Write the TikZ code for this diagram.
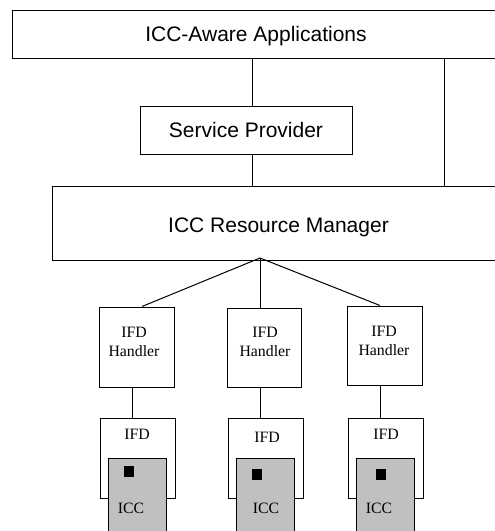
\documentclass[tikz,border=0pt]{standalone}
\usepackage{fontspec}
\setmainfont{Liberation Serif}
\newfontfamily\arialf{Liberation Sans}
\definecolor{iccgray}{HTML}{C0C0C0}
\begin{document}
\begin{tikzpicture}[x=1pt,y=-1pt,line width=1pt,
  bigbox/.style={draw,rectangle,inner sep=0pt,text height=15.1pt,text depth=0pt,font=\arialf\fontsize{21}{25}\selectfont},
  smallbox/.style={draw,rectangle,inner sep=0pt},
  serift/.style={inner sep=0pt,align=center,font=\fontsize{15.8}{19}\selectfont},
  cardbox/.style={draw,fill=iccgray,rectangle,inner sep=0pt},
  chip/.style={fill=black,rectangle,inner sep=0pt,minimum width=10pt,minimum height=11pt}]
\useasboundingbox (0,0) rectangle (495,531);
\clip (0,0) rectangle (495,531);
\fill[white] (0,0) rectangle (495,531);
% top levels
\node[bigbox,minimum width=488pt,minimum height=48pt] (top) at (256,34) {ICC-Aware Applications};
\node[bigbox,minimum width=212pt,minimum height=48pt] (sp) at (246,130) {Service Provider};
\node[bigbox,minimum width=453pt,minimum height=74pt] (rm) at (278.5,223) {\raisebox{-2pt}{ICC Resource Manager}};
\coordinate (apex) at (260,258);
% handlers
\node[smallbox,minimum width=75pt,minimum height=80pt] (h1) at (136.5,347) {};
\node[smallbox,minimum width=74pt,minimum height=79pt] (h2) at (264,347.5) {};
\node[smallbox,minimum width=75pt,minimum height=79pt] (h3) at (384.5,345.5) {};
\node[serift] (ht1) at (134,342) {IFD\\Handler};
\node[serift] (ht2) at (265,342) {IFD\\Handler};
\node[serift] (ht3) at (384,341) {IFD\\Handler};
% IFD boxes
\node[smallbox,minimum width=75pt,minimum height=80pt] (i1) at (137.5,458) {};
\node[smallbox,minimum width=75pt,minimum height=80pt] (i2) at (265.5,458) {};
\node[smallbox,minimum width=75pt,minimum height=80pt] (i3) at (385.5,458) {};
\node[serift] (it1) at (137,434) {IFD};
\node[serift] (it2) at (267,437) {IFD};
\node[serift] (it3) at (386,434) {IFD};
% ICC cards
\node[cardbox,minimum width=58pt,minimum height=102pt] (g1) at (137,509) {};
\node[cardbox,minimum width=58pt,minimum height=102pt] (g2) at (265,509) {};
\node[cardbox,minimum width=58pt,minimum height=102pt] (g3) at (385,509) {};
\node[chip] (c1) at (129,471.5) {};
\node[chip] (c2) at (256.5,474.5) {};
\node[chip] (c3) at (380.5,474.5) {};
\node[serift] (gt1) at (131,508) {ICC};
\node[serift] (gt2) at (266,508) {ICC};
\node[serift] (gt3) at (379,508) {ICC};
% connectors
\draw (top.south -| 252,0) -- (sp.north -| 252,0);
\draw (sp.south -| 252,0) -- (rm.north -| 252,0);
\draw (top.south -| 444,0) -- (rm.north -| 444,0);
\draw (apex) -- (h1.north -| 142,0);
\draw (apex) -- (h2.north -| 260,0);
\draw (apex) -- (h3.north -| 380,0);
\draw (h1.south -| 132,0) -- (i1.north -| 132,0);
\draw (h2.south -| 260,0) -- (i2.north -| 260,0);
\draw (h3.south -| 380,0) -- (i3.north -| 380,0);
\end{tikzpicture}
\end{document}
